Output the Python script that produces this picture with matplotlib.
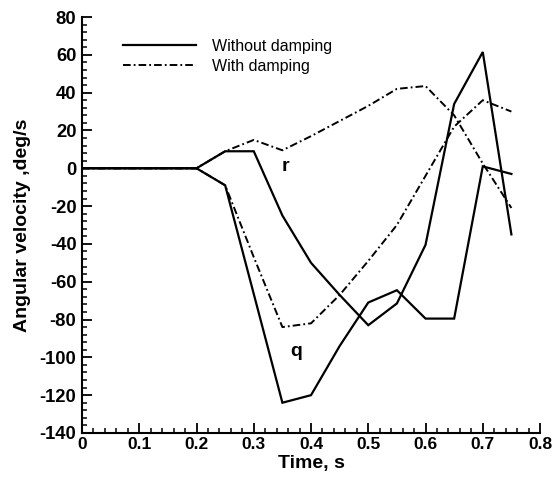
import matplotlib
matplotlib.use("Agg")
import matplotlib.pyplot as plt
from matplotlib.ticker import MultipleLocator

plt.rcParams['font.family'] = ['Liberation Sans', 'DejaVu Sans']
plt.rcParams['lines.scale_dashes'] = False
plt.rcParams['axes.unicode_minus'] = False

# Time samples, s
time = [0.0, 0.05, 0.10, 0.15, 0.20, 0.25, 0.30, 0.35, 0.40, 0.45,
        0.50, 0.55, 0.60, 0.65, 0.70, 0.75]

# Angular velocities, deg/s
r_no_damp = [0, 0, 0, 0, 0, 9, 9, -25, -50, -67,
             -83, -71.5, -40.5, 34, 61.5, -35]
q_no_damp = [0, 0, 0, 0, 0, -9, -66.5, -124, -120, -94,
             -71, -64.5, -79.5, -79.5, 1, -3]
r_damp = [0, 0, 0, 0, 0, 9, 15, 9.5, 17, 25,
          33, 42, 43.5, 28, 2.5, -21]
q_damp = [0, 0, 0, 0, 0, -9, -47, -84, -82, -67,
          -49, -30, -4, 22, 36, 30]

legend_labels = ["Without damping", "With damping"]
x_label = "Time, s"
y_label = "Angular velocity ,deg/s"

fig = plt.figure(figsize=(5.52, 4.82), dpi=100)
ax = fig.add_axes([0.1486, 0.1017, 0.8297, 0.863])

dashdot = (0, (5.5, 2.2, 1.3, 2.2))
lw_solid = 1.6
lw_dd = 1.4

l1, = ax.plot(time, r_no_damp, color='black', lw=lw_solid, solid_joinstyle='miter')
ax.plot(time, q_no_damp, color='black', lw=lw_solid, solid_joinstyle='miter')
l2, = ax.plot(time, r_damp, color='black', lw=lw_dd, linestyle=dashdot)
ax.plot(time, q_damp, color='black', lw=lw_dd, linestyle=dashdot)

ax.text(0.356, 1, "r", fontsize=14, fontweight='bold', ha='center', va='center')
ax.text(0.374, -97, "q", fontsize=14, fontweight='bold', ha='center', va='center')

ax.set_xlim(0, 0.8)
ax.set_ylim(-140, 80)
ax.xaxis.set_major_locator(MultipleLocator(0.1))
ax.xaxis.set_minor_locator(MultipleLocator(0.02))
ax.yaxis.set_major_locator(MultipleLocator(20))
ax.yaxis.set_minor_locator(MultipleLocator(4))
ax.set_xticklabels([f"{v:g}" for v in ax.get_xticks()])

for side in ('top', 'right'):
    ax.spines[side].set_visible(False)
for side in ('left', 'bottom'):
    ax.spines[side].set_linewidth(1.5)

ax.tick_params(which='major', direction='in', length=7, width=1.3, pad=3)
ax.tick_params(which='minor', direction='in', length=3.5, width=1.1)
ax.tick_params(axis='x', which='major', labelsize=12.5)
ax.tick_params(axis='y', which='major', labelsize=13.2, pad=4)
for lab in ax.get_xticklabels() + ax.get_yticklabels():
    lab.set_fontweight('bold')

ax.set_xlabel(x_label, fontsize=14, fontweight='bold', labelpad=2)
ax.set_ylabel(y_label, fontsize=14, fontweight='bold', labelpad=6)

ax.legend([l1, l2], legend_labels, loc='upper left', bbox_to_anchor=(0.089, 0.947),
          frameon=False, fontsize=11.5, handlelength=4.6, handletextpad=1.0,
          labelspacing=0.28, borderpad=0, borderaxespad=0)

fig.savefig("out.png", dpi=100)
